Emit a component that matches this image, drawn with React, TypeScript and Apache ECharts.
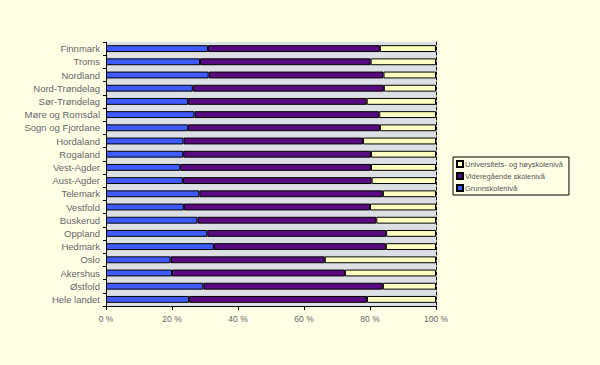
import React, { useEffect, useRef } from "react";
import * as echarts from "echarts";

const categories = [
  "Finnmark", "Troms", "Nordland", "Nord-Trøndelag", "Sør-Trøndelag",
  "Møre og Romsdal", "Sogn og Fjordane", "Hordaland", "Rogaland", "Vest-Agder",
  "Aust-Agder", "Telemark", "Vestfold", "Buskerud", "Oppland",
  "Hedmark", "Oslo", "Akershus", "Østfold", "Hele landet",
];
const grunnskole = [30.9, 28.5, 31.1, 26.3, 24.9, 26.8, 24.9, 23.5, 23.4, 22.5, 23.3, 28.3, 23.6, 27.7, 30.7, 32.7, 19.6, 20.0, 29.5, 25.2];
const videregaende = [52.1, 51.7, 53.0, 57.9, 54.1, 56.0, 58.1, 54.4, 56.9, 57.8, 57.2, 55.6, 56.4, 54.2, 54.2, 52.1, 46.7, 52.4, 54.4, 53.9];
const universitet = [17.0, 19.8, 15.9, 15.8, 21.0, 17.2, 17.0, 22.1, 19.7, 19.7, 19.5, 16.1, 20.0, 18.1, 15.1, 15.2, 33.7, 27.6, 16.1, 20.9];
const seriesNames = ["Grunnskolenivå", "Videregående skolenivå", "Universitets- og høyskolenivå"];
const xTicks = [0, 20, 40, 60, 80, 100];

export default function App() {
  const ref = useRef<HTMLDivElement>(null);
  useEffect(() => {
    if (!ref.current) return;
    const chart = echarts.init(ref.current, null, { renderer: "svg" });
    const font = "Arial, 'Liberation Sans', sans-serif";
    const mk = (name: string, data: number[], color: string) => ({
      name,
      type: "bar",
      stack: "total",
      data,
      barWidth: "52%",
      itemStyle: { color, borderColor: "#000", borderWidth: 1 },
    });
    chart.setOption({
      animation: false,
      backgroundColor: "#FFFFE6",
      textStyle: { fontFamily: font },
      grid: {
        left: 106, right: 164, top: 42, bottom: 59,
        show: true, backgroundColor: "#DCDFE3", borderWidth: 0,
      },
      legend: {
        orient: "vertical",
        left: 453, top: 157,
        data: [seriesNames[2], seriesNames[1], seriesNames[0]],
        itemWidth: 6, itemHeight: 6, itemGap: 4,
        icon: "rect",
        padding: [3, 6, 3, 3],
        borderColor: "#000", borderWidth: 1,
        backgroundColor: "#FFFFE6",
        textStyle: { fontSize: 7.5, color: "#555", fontFamily: font, padding: [0, 0, 0, -3] },
      },
      xAxis: {
        type: "value", min: 0, max: 100, interval: 20,
        axisLine: { show: true, lineStyle: { color: "#000", width: 1 } },
        axisTick: { show: true, length: 4, lineStyle: { color: "#000" } },
        splitLine: { show: false },
        axisLabel: {
          fontSize: 8.5, color: "#666", margin: 8,
          formatter: (v: number) => (xTicks.includes(v) ? v + " %" : ""),
        },
      },
      yAxis: [
        {
          type: "category", data: categories, inverse: true,
          axisLine: { show: true, lineStyle: { color: "#000", width: 1 } },
          axisTick: { show: true, length: 3, lineStyle: { color: "#000" } },
          axisLabel: { fontSize: 9.5, color: "#666", margin: 6 },
        },
        {
          type: "category", data: categories, inverse: true, position: "right",
          axisLine: { show: true, lineStyle: { color: "#000", width: 1, type: [3, 2] } },
          axisTick: { show: false },
          axisLabel: { show: false },
        },
      ],
      series: [
        mk(seriesNames[0], grunnskole, "#3F5BFF"),
        mk(seriesNames[1], videregaende, "#5A0A80"),
        mk(seriesNames[2], universitet, "#FFFFC0"),
      ],
    });
    return () => chart.dispose();
  }, []);
  return <div ref={ref} style={{ position: "fixed", left: 0, top: 0, width: 600, height: 365 }} />;
}
